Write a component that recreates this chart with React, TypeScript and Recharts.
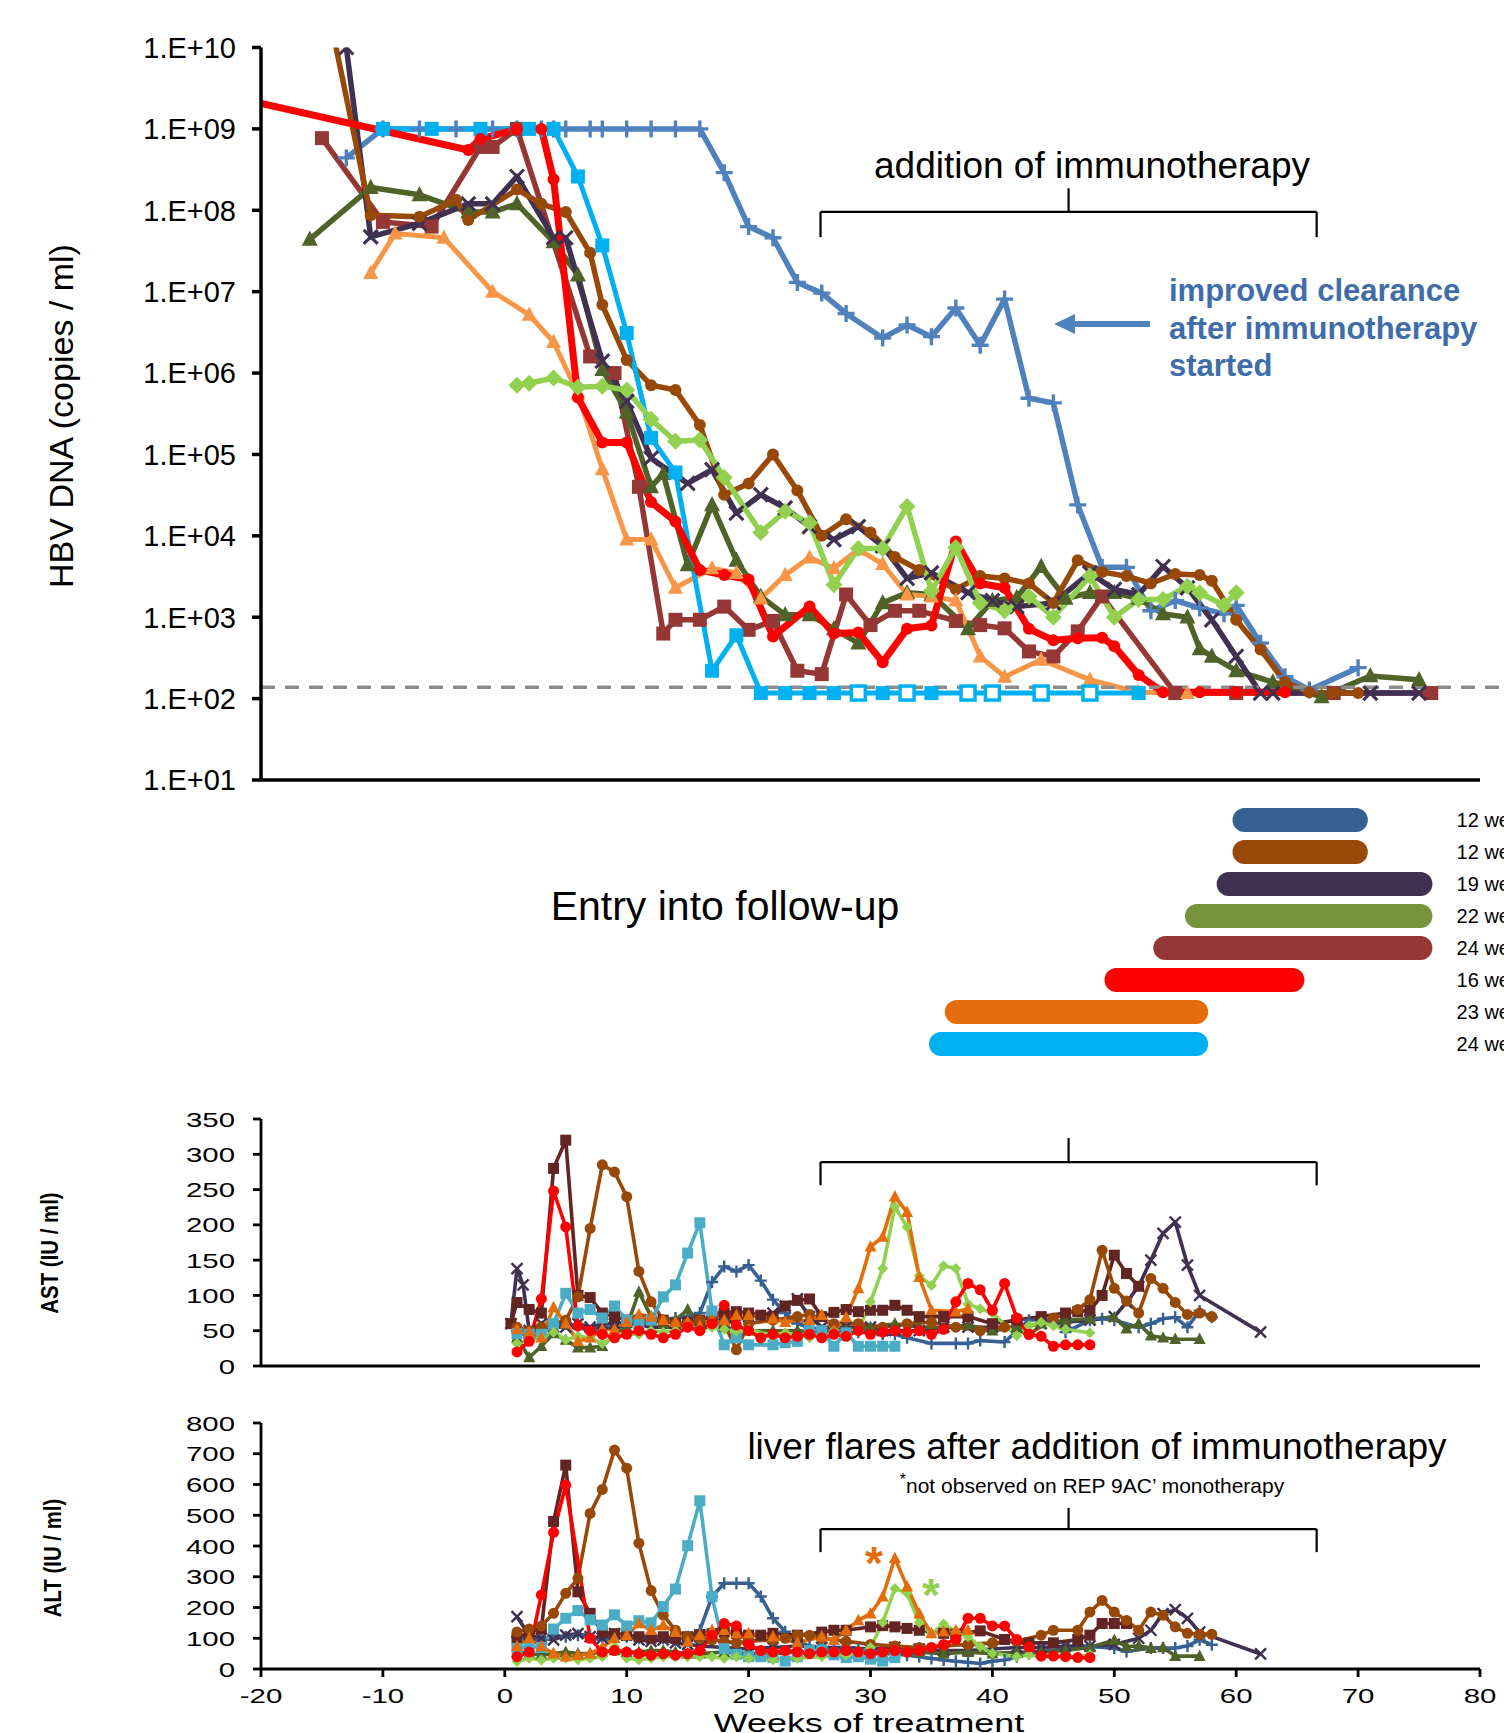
import React from 'react';
import { LineChart, Line, XAxis, YAxis, ReferenceLine, BarChart, Bar, Cell } from 'recharts';

const FONT = '"Liberation Sans", Arial, Helvetica, sans-serif';

// ---- axes ----
const weekTicks = [-20, -10, 0, 10, 20, 30, 40, 50, 60, 70, 80];
const dnaTicks = [1e1, 1e2, 1e3, 1e4, 1e5, 1e6, 1e7, 1e8, 1e9, 1e10];
const astTicks = [0, 50, 100, 150, 200, 250, 300, 350];
const altTicks = [0, 100, 200, 300, 400, 500, 600, 700, 800];
const detectionLimit = 138;

// ---- HBV DNA (copies / ml), [week, value] ----
const hbvSteelBlue = [[-13, 4.4e8], [-10, 1e9], [-7, 1e9], [-4, 1e9], [-1, 1e9], [1, 1e9], [3, 1e9], [4, 1e9], [5, 1e9], [7, 1e9], [8, 1e9], [10, 1e9], [12, 1e9], [14, 1e9], [16, 1e9], [18, 2.9e8], [20, 6.3e7], [22, 4.6e7], [24, 1.3e7], [26, 9.6e6], [28, 5.4e6], [31, 2.7e6], [33, 3.9e6], [35, 2.8e6], [37, 6.3e6], [39, 2.2e6], [41, 8.1e6], [43, 4.9e5], [45, 4.3e5], [47, 2.4e4], [49, 4.1e3], [51, 4.1e3], [53, 1.2e3], [55, 1.6e3], [57, 1.3e3], [59, 1.1e3], [60, 1.4e3], [62, 480], [64, 186], [66, 128], [70, 240]];
const hbvCyan = [[-10, 1e9], [-6, 1e9], [-2, 1e9], [2, 1e9], [4, 1e9], [6, 2.6e8], [8, 3.7e7], [10, 3.1e6], [12, 1.6e5], [14, 6e4], [17, 220], [19, 600], [21, 117], [23, 117], [25, 117], [27, 117], [29, 117], [31, 117], [33, 117], [35, 117], [38, 117], [40, 117], [44, 117], [48, 117], [52, 117]];
const cyanHollowWeeks = [29, 33, 38, 40, 44, 48];
const hbvRed = [[-23, 2.6e9], [-3, 5.5e8], [-2, 7.5e8], [1, 1e9], [3, 1e9], [4, 2.4e8], [6, 5e5], [8, 1.4e5], [10, 1.4e5], [12, 2.6e4], [14, 1.5e4], [16, 3.8e3], [18, 3.3e3], [20, 2.9e3], [22, 580], [25, 1.35e3], [27, 630], [29, 650], [31, 280], [33, 720], [35, 790], [37, 8.5e3], [39, 2.6e3], [41, 2.3e3], [43, 720], [45, 520], [47, 550], [49, 560], [50, 440], [52, 195], [54, 120], [57, 120], [60, 120], [64, 120]];
const hbvMaroon = [[-15, 7.7e8], [-10, 7.2e7], [-6, 6.3e7], [-2, 6e8], [-1, 6e8], [1, 1e9], [7, 1.6e6], [9, 1e6], [11, 4e4], [13, 630], [14, 930], [16, 930], [18, 1.35e3], [20, 700], [22, 900], [24, 220], [26, 200], [28, 1.9e3], [30, 800], [32, 1.2e3], [34, 1.2e3], [37, 900], [39, 800], [41, 730], [43, 380], [45, 330], [47, 670], [49, 1.8e3], [55, 117], [60, 117], [68, 117], [76, 117]];
const hbvBrown = [[-14, 1.3e10], [-11, 8.7e7], [-7, 8.3e7], [-4, 1.35e8], [-3, 7.6e7], [1, 1.8e8], [3, 1.2e8], [5, 9.5e7], [7, 3e7], [8, 6.9e6], [10, 1.45e6], [12, 7.1e5], [14, 6.2e5], [16, 2.3e5], [18, 3.2e4], [20, 4.4e4], [22, 1e5], [24, 3.6e4], [26, 1e4], [28, 1.6e4], [30, 1.1e4], [32, 5.5e3], [34, 3.8e3], [37, 2.2e3], [39, 3.2e3], [41, 3e3], [43, 2.6e3], [45, 1.5e3], [47, 5e3], [49, 3.6e3], [51, 3.2e3], [53, 2.6e3], [55, 3.4e3], [57, 3.3e3], [58, 2.8e3], [60, 930], [62, 400], [64, 160], [66, 120], [68, 117], [70, 117]];
const hbvPurple = [[-13, 1e10], [-11, 4.7e7], [-7, 6.9e7], [-3, 1.2e8], [-1, 1.2e8], [1, 2.6e8], [4, 4.6e7], [5, 4.6e7], [8, 1.4e6], [10, 4.5e5], [12, 9e4], [15, 4.4e4], [17, 6.5e4], [19, 1.9e4], [21, 3.2e4], [23, 2.2e4], [25, 1.3e4], [27, 9e3], [29, 1.3e4], [31, 7.5e3], [33, 3e3], [35, 3.5e3], [38, 2e3], [40, 1.6e3], [42, 1.35e3], [45, 1.5e3], [48, 3.5e3], [50, 2.2e3], [52, 1.9e3], [54, 4.2e3], [56, 2.3e3], [58, 930], [60, 330], [62, 117], [63, 117], [71, 117], [75, 117]];
const hbvDarkGreen = [[-16, 4.4e7], [-11, 1.9e8], [-7, 1.55e8], [-3, 9.5e7], [-1, 9.5e7], [1, 1.2e8], [4, 4.1e7], [6, 1.6e7], [8, 1.1e6], [10, 3.3e5], [12, 4e4], [13, 5.8e4], [15, 4.4e3], [17, 2.4e4], [19, 5e3], [21, 1.8e3], [23, 1.07e3], [25, 1.07e3], [27, 720], [29, 480], [31, 1.5e3], [33, 2e3], [35, 1.9e3], [38, 720], [40, 1.6e3], [42, 1.75e3], [44, 4.2e3], [46, 1.7e3], [48, 2e3], [50, 2e3], [52, 1.7e3], [54, 1.1e3], [56, 1e3], [57, 410], [58, 330], [60, 220], [63, 160], [67, 105], [71, 190], [75, 170]];
const hbvLightOrange = [[-11, 1.7e7], [-9, 5.2e7], [-5, 4.6e7], [-1, 1e7], [2, 5.2e6], [4, 2.4e6], [6, 5.6e5], [8, 6.6e4], [10, 9e3], [12, 9e3], [14, 2.3e3], [17, 4e3], [19, 3.5e3], [21, 1.7e3], [23, 3.3e3], [25, 5.4e3], [27, 4e3], [29, 6.8e3], [31, 4.5e3], [33, 1.9e3], [35, 1.8e3], [37, 1.6e3], [39, 330], [41, 185], [44, 300], [48, 170], [52, 120], [56, 117]];
const hbvLightGreen = [[1, 7.1e5], [2, 7.5e5], [4, 8.7e5], [6, 6.7e5], [8, 6.9e5], [10, 6.2e5], [12, 2.7e5], [14, 1.45e5], [16, 1.5e5], [18, 5.2e4], [21, 1.1e4], [23, 2e4], [25, 1.45e4], [27, 2.5e3], [29, 7e3], [31, 7e3], [33, 2.3e4], [35, 2.1e3], [37, 7.2e3], [39, 1.5e3], [41, 1.2e3], [43, 1.8e3], [45, 1e3], [48, 3.2e3], [50, 1e3], [52, 1.65e3], [54, 1.65e3], [56, 2.4e3], [57, 2e3], [59, 1.4e3], [60, 2e3]];

// ---- follow-up bars ----
const followUpLabels = ['12 weeks', '12 weeks', '19 weeks', '22 weeks', '24 weeks', '16 weeks', '23 weeks', '24 weeks'];
const followUpStart = [59.7, 59.7, 58.4, 55.8, 53.2, 49.2, 36.1, 34.8];
const followUpEnd = [70.8, 70.8, 76.1, 76.1, 76.1, 65.6, 57.7, 57.7];
const followUpColors = ['#376092', '#984807', '#403152', '#77933C', '#953735', '#FF0000', '#E46C0A', '#00B0F0'];

// ---- AST (IU / ml) ----
const astMaroon = [[0.5, 60], [1, 90], [2, 80], [3, 75], [4, 280], [5, 320], [6, 100], [7, 97], [8, 75], [9, 70], [10, 65], [11, 65], [12, 65], [13, 65], [14, 60], [15, 62], [16, 65], [17, 70], [18, 75], [19, 77], [20, 75], [21, 72], [22, 70], [23, 85], [24, 93], [25, 95], [26, 70], [27, 76], [28, 80], [29, 77], [30, 79], [31, 79], [32, 86], [33, 79], [34, 70], [36, 70], [38, 70], [40, 60], [42, 65], [44, 70], [46, 75], [47, 77], [48, 79], [49, 100], [50, 157], [51, 131], [52, 113]];
const astRed = [[1, 20], [2, 35], [3, 95], [4, 248], [5, 197], [6, 57], [7, 50], [8, 45], [9, 40], [10, 45], [11, 50], [12, 45], [13, 40], [14, 45], [15, 55], [16, 50], [17, 60], [18, 86], [19, 58], [20, 50], [21, 40], [22, 45], [23, 40], [24, 42], [25, 45], [26, 40], [27, 45], [28, 42], [29, 50], [30, 45], [31, 48], [32, 50], [33, 48], [34, 50], [35, 45], [36, 52], [37, 91], [38, 117], [39, 108], [40, 79], [41, 117], [42, 68], [43, 45], [44, 42], [45, 28], [46, 30], [47, 30], [48, 30]];
const astBrown = [[1, 55], [2, 50], [3, 55], [4, 60], [5, 65], [6, 98], [7, 195], [8, 285], [9, 275], [10, 240], [11, 134], [12, 91], [13, 65], [14, 60], [15, 60], [16, 65], [17, 70], [18, 60], [19, 23], [20, 60], [22, 65], [24, 70], [25, 73], [27, 60], [29, 60], [31, 55], [33, 60], [35, 62], [37, 55], [39, 50], [41, 55], [43, 45], [45, 68], [47, 80], [48, 94], [49, 164], [50, 110], [51, 92], [52, 75], [53, 124], [54, 110], [55, 90], [56, 73], [57, 75], [58, 70]];
const astCyan = [[1, 46], [2, 45], [3, 45], [4, 60], [5, 103], [6, 75], [7, 80], [8, 68], [9, 85], [10, 65], [11, 60], [12, 65], [13, 98], [14, 115], [15, 160], [16, 203], [17, 78], [18, 30], [19, 40], [20, 30], [22, 30], [23, 33], [24, 35], [25, 50], [26, 50], [27, 28], [28, 47], [29, 28], [30, 28], [31, 28], [32, 28]];
const astSteelBlue = [[1, 50], [2, 40], [3, 55], [4, 58], [5, 60], [6, 55], [7, 50], [8, 55], [9, 55], [10, 60], [11, 60], [12, 62], [13, 65], [14, 68], [15, 70], [16, 75], [17, 119], [18, 141], [19, 134], [20, 143], [21, 121], [22, 94], [23, 75], [24, 60], [25, 55], [26, 50], [27, 50], [28, 50], [29, 48], [30, 50], [31, 45], [32, 45], [33, 40], [35, 32], [37, 32], [38, 32], [39, 36], [41, 34], [43, 65], [44, 67], [45, 63], [46, 48], [48, 65], [49, 67], [50, 65], [52, 55], [53, 60], [54, 67], [55, 69], [56, 55], [57, 78], [58, 69]];
const astPurple = [[0.5, 60], [1, 138], [1.5, 115], [2, 50], [3, 60], [4, 55], [5, 55], [6, 60], [7, 55], [8, 60], [9, 60], [10, 62], [12, 55], [14, 55], [16, 60], [18, 60], [20, 70], [22, 75], [23, 85], [24, 95], [25, 70], [26, 55], [28, 55], [30, 55], [31, 50], [32, 50], [34, 50], [36, 55], [38, 55], [40, 55], [42, 55], [44, 60], [46, 62], [48, 65], [50, 70], [51, 90], [52, 113], [53, 150], [54, 188], [55, 204], [56, 143], [57, 100], [62, 48]];
const astDarkGreen = [[1, 40], [2, 12], [3, 28], [4, 46], [5, 37], [6, 26], [7, 26], [8, 28], [9, 45], [10, 55], [11, 105], [12, 70], [13, 60], [14, 65], [15, 80], [16, 60], [18, 55], [20, 50], [22, 50], [24, 50], [26, 48], [28, 50], [30, 55], [32, 60], [34, 55], [36, 55], [38, 58], [40, 50], [42, 55], [44, 60], [46, 65], [48, 67], [50, 69], [51, 53], [52, 60], [53, 43], [54, 40], [55, 38], [57, 38]];
const astOrange = [[1, 52], [2, 48], [3, 40], [4, 83], [5, 60], [6, 35], [7, 40], [8, 52], [9, 52], [10, 62], [11, 73], [12, 70], [13, 65], [14, 62], [15, 62], [16, 57], [17, 65], [18, 65], [19, 72], [20, 72], [22, 67], [23, 62], [25, 65], [26, 72], [27, 50], [28, 69], [29, 110], [30, 169], [31, 183], [32, 240], [33, 218], [34, 126], [35, 79], [37, 77], [38, 81]];
const astLightGreen = [[1, 32], [2, 37], [3, 40], [4, 48], [5, 37], [6, 42], [7, 40], [8, 32], [9, 40], [10, 45], [11, 45], [12, 50], [13, 48], [14, 50], [15, 55], [16, 52], [17, 55], [18, 52], [19, 50], [20, 52], [22, 43], [23, 47], [25, 40], [27, 50], [29, 50], [30, 91], [31, 138], [32, 226], [33, 197], [34, 128], [35, 114], [36, 142], [37, 138], [38, 88], [39, 81], [40, 75], [42, 43], [43, 57], [44, 62], [45, 57], [46, 52], [48, 47]];

// ---- ALT (IU / ml) ----
const altMaroon = [[1, 100], [2, 120], [3, 130], [4, 480], [5, 663], [6, 251], [7, 181], [8, 120], [9, 115], [10, 110], [11, 105], [12, 100], [13, 105], [14, 100], [15, 105], [16, 110], [17, 115], [18, 120], [19, 115], [20, 110], [21, 110], [22, 116], [24, 110], [26, 120], [27, 126], [28, 126], [30, 137], [31, 141], [32, 137], [33, 132], [34, 126], [36, 116], [37, 113], [39, 124], [41, 96], [43, 85], [45, 85], [47, 96], [48, 110], [49, 148], [50, 148], [51, 148]];
const altRed = [[1, 40], [2, 55], [3, 241], [4, 444], [5, 598], [7, 100], [8, 55], [9, 60], [10, 55], [11, 50], [12, 45], [13, 50], [14, 45], [15, 50], [16, 60], [17, 110], [18, 148], [19, 140], [20, 80], [21, 60], [22, 55], [23, 60], [24, 55], [25, 50], [26, 55], [27, 55], [28, 60], [29, 55], [30, 50], [31, 55], [32, 60], [33, 55], [34, 60], [35, 70], [36, 80], [37, 96], [38, 165], [39, 165], [40, 140], [41, 140], [42, 96], [43, 72], [44, 42], [45, 42], [46, 40], [47, 37], [48, 37]];
const altBrown = [[1, 120], [2, 130], [3, 140], [4, 181], [5, 246], [6, 295], [7, 506], [8, 584], [9, 712], [10, 653], [11, 409], [12, 255], [13, 175], [14, 126], [15, 105], [16, 100], [17, 95], [18, 90], [19, 85], [20, 90], [22, 95], [23, 100], [24, 110], [25, 110], [26, 100], [28, 90], [30, 80], [32, 75], [34, 70], [36, 75], [38, 80], [40, 85], [42, 90], [44, 110], [45, 126], [47, 126], [48, 185], [49, 223], [50, 185], [51, 158], [52, 126], [53, 185], [54, 175], [55, 137], [56, 116], [57, 113], [58, 113]];
const altCyan = [[1, 67], [2, 73], [3, 70], [4, 130], [5, 165], [6, 190], [7, 160], [8, 143], [9, 176], [10, 140], [11, 157], [12, 150], [13, 203], [14, 260], [15, 401], [16, 547], [17, 235], [18, 66], [19, 48], [20, 40], [21, 40], [22, 37], [23, 26], [24, 40], [25, 60], [26, 62], [27, 46], [28, 37], [29, 40], [30, 32], [31, 26], [32, 37]];
const altSteelBlue = [[1, 105], [2, 100], [3, 95], [4, 110], [5, 105], [6, 110], [7, 105], [8, 95], [9, 100], [10, 105], [11, 100], [12, 105], [13, 100], [14, 95], [15, 105], [16, 126], [17, 235], [18, 279], [19, 279], [20, 279], [21, 236], [22, 165], [23, 121], [24, 89], [25, 75], [26, 70], [27, 65], [28, 70], [29, 65], [30, 60], [31, 55], [32, 50], [33, 45], [34, 40], [35, 34], [36, 29], [37, 25], [38, 22], [39, 18], [40, 25], [41, 29], [42, 40], [43, 50], [44, 57], [46, 65], [48, 73], [50, 68], [51, 57], [53, 68], [54, 68], [55, 68], [56, 75], [57, 95], [58, 79]];
const altPurple = [[1, 170], [2, 110], [3, 100], [4, 95], [5, 110], [6, 115], [7, 105], [8, 100], [9, 115], [10, 110], [11, 95], [12, 90], [13, 95], [14, 85], [15, 80], [16, 75], [18, 70], [20, 65], [22, 70], [24, 75], [26, 70], [28, 70], [30, 65], [32, 70], [34, 65], [36, 60], [38, 60], [40, 65], [42, 70], [44, 70], [46, 75], [48, 75], [50, 80], [52, 100], [53, 126], [54, 180], [55, 193], [56, 165], [57, 120], [62, 49]];
const altDarkGreen = [[1, 55], [2, 50], [3, 45], [4, 50], [5, 55], [6, 50], [7, 50], [8, 55], [9, 60], [10, 55], [11, 55], [12, 60], [13, 60], [14, 55], [15, 50], [16, 50], [18, 55], [20, 50], [22, 50], [24, 55], [26, 55], [28, 50], [30, 50], [32, 50], [34, 55], [36, 50], [38, 55], [40, 50], [42, 55], [44, 55], [46, 60], [48, 70], [50, 94], [51, 73], [52, 75], [53, 68], [54, 70], [55, 42], [57, 42]];
const altOrange = [[1, 74], [2, 100], [3, 73], [4, 50], [5, 40], [6, 45], [7, 50], [8, 70], [9, 100], [10, 110], [11, 148], [12, 126], [13, 142], [14, 120], [15, 88], [16, 110], [17, 126], [18, 126], [19, 116], [20, 116], [22, 105], [24, 85], [26, 105], [27, 94], [28, 126], [29, 158], [30, 180], [31, 235], [32, 360], [33, 268], [34, 180], [35, 116], [36, 121], [37, 126], [38, 126]];
const altLightGreen = [[1, 24], [2, 35], [3, 29], [4, 35], [5, 35], [6, 30], [7, 35], [8, 40], [9, 73], [10, 35], [11, 30], [12, 35], [13, 40], [14, 40], [15, 40], [16, 40], [17, 40], [18, 35], [19, 40], [20, 35], [22, 30], [24, 35], [26, 40], [28, 45], [29, 50], [30, 70], [31, 151], [32, 262], [33, 246], [34, 151], [35, 115], [36, 146], [37, 120], [38, 105], [39, 73], [40, 51], [42, 40], [43, 46], [44, 40], [46, 40], [47, 40], [48, 46]];

// immunotherapy period (weeks) used for the braces
const immunoStart = 25.9;
const immunoEnd = 66.6;

const toRows = (pts: number[][]) => pts.map(([w, v]) => ({ w, v }));

type Shape = 'circle' | 'square' | 'triangle' | 'diamond' | 'x' | 'plus';

const makeDot = (shape: Shape, color: string, size: number, hollowWeeks: number[] = []) => (p: any) => {
  const { cx, cy, index, payload } = p;
  const key = `m-${index}`;
  if (cx == null || cy == null || !isFinite(cx) || !isFinite(cy)) return <g key={key} />;
  const h = size / 2;
  switch (shape) {
    case 'circle':
      return <circle key={key} cx={cx} cy={cy} r={h} fill={color} />;
    case 'square': {
      const hollow = hollowWeeks.includes(payload?.w);
      return (
        <rect key={key} x={cx - h} y={cy - h} width={size} height={size}
          fill={hollow ? '#fff' : color} stroke={color} strokeWidth={hollow ? 3.5 : 0} />
      );
    }
    case 'triangle':
      return <polygon key={key} points={`${cx},${cy - h * 1.1} ${cx + h},${cy + h * 0.8} ${cx - h},${cy + h * 0.8}`} fill={color} />;
    case 'diamond':
      return <polygon key={key} points={`${cx},${cy - h} ${cx + h},${cy} ${cx},${cy + h} ${cx - h},${cy}`} fill={color} />;
    case 'x':
      return <path key={key} d={`M${cx - h},${cy - h}L${cx + h},${cy + h}M${cx - h},${cy + h}L${cx + h},${cy - h}`} stroke={color} strokeWidth={Math.max(2.2, size / 4.5)} />;
    default:
      return <path key={key} d={`M${cx - h},${cy}L${cx + h},${cy}M${cx},${cy - h}L${cx},${cy + h}`} stroke={color} strokeWidth={Math.max(2.2, size / 5)} />;
  }
};

const hbvSeries = [
  { id: 'hbv-steel', pts: hbvSteelBlue, color: '#4F81BD', shape: 'plus', width: 5.5, size: 17 },
  { id: 'hbv-maroon', pts: hbvMaroon, color: '#953735', shape: 'square', width: 5.5, size: 14 },
  { id: 'hbv-dgreen', pts: hbvDarkGreen, color: '#4F6228', shape: 'triangle', width: 5.5, size: 16 },
  { id: 'hbv-purple', pts: hbvPurple, color: '#403152', shape: 'x', width: 5.5, size: 14 },
  { id: 'hbv-brown', pts: hbvBrown, color: '#984807', shape: 'circle', width: 5.5, size: 12 },
  { id: 'hbv-lorange', pts: hbvLightOrange, color: '#F79646', shape: 'triangle', width: 5, size: 15 },
  { id: 'hbv-cyan', pts: hbvCyan, color: '#00B0F0', shape: 'square', width: 5, size: 14, hollow: cyanHollowWeeks },
  { id: 'hbv-red', pts: hbvRed, color: '#FF0000', shape: 'circle', width: 7, size: 12 },
  { id: 'hbv-lgreen', pts: hbvLightGreen, color: '#92D050', shape: 'diamond', width: 5.5, size: 17 },
];

const astSeries = [
  { id: 'ast-steel', pts: astSteelBlue, color: '#376092', shape: 'plus', width: 3.6, size: 12 },
  { id: 'ast-purple', pts: astPurple, color: '#403152', shape: 'x', width: 3.6, size: 11 },
  { id: 'ast-dgreen', pts: astDarkGreen, color: '#4F6228', shape: 'triangle', width: 3.6, size: 12 },
  { id: 'ast-maroon', pts: astMaroon, color: '#632523', shape: 'square', width: 3.6, size: 11 },
  { id: 'ast-brown', pts: astBrown, color: '#984807', shape: 'circle', width: 3.6, size: 11 },
  { id: 'ast-cyan', pts: astCyan, color: '#4BACC6', shape: 'square', width: 3.6, size: 11 },
  { id: 'ast-lgreen', pts: astLightGreen, color: '#92D050', shape: 'diamond', width: 3.6, size: 11 },
  { id: 'ast-orange', pts: astOrange, color: '#E46C0A', shape: 'triangle', width: 3.6, size: 12 },
  { id: 'ast-red', pts: astRed, color: '#FF0000', shape: 'circle', width: 3.6, size: 11 },
];

const altSeries = [
  { id: 'alt-steel', pts: altSteelBlue, color: '#376092', shape: 'plus', width: 3.6, size: 12 },
  { id: 'alt-purple', pts: altPurple, color: '#403152', shape: 'x', width: 3.6, size: 11 },
  { id: 'alt-dgreen', pts: altDarkGreen, color: '#4F6228', shape: 'triangle', width: 3.6, size: 12 },
  { id: 'alt-maroon', pts: altMaroon, color: '#632523', shape: 'square', width: 3.6, size: 11 },
  { id: 'alt-brown', pts: altBrown, color: '#984807', shape: 'circle', width: 3.6, size: 11 },
  { id: 'alt-cyan', pts: altCyan, color: '#4BACC6', shape: 'square', width: 3.6, size: 11 },
  { id: 'alt-lgreen', pts: altLightGreen, color: '#92D050', shape: 'diamond', width: 3.6, size: 11 },
  { id: 'alt-orange', pts: altOrange, color: '#E46C0A', shape: 'triangle', width: 3.6, size: 12 },
  { id: 'alt-red', pts: altRed, color: '#FF0000', shape: 'circle', width: 3.6, size: 11 },
];

const renderLines = (series: any[]) =>
  series.map((s) => (
    <Line
      key={s.id}
      data={toRows(s.pts)}
      dataKey="v"
      type="linear"
      stroke={s.color}
      strokeWidth={s.width}
      strokeLinejoin="round"
      dot={makeDot(s.shape, s.color, s.size, s.hollow)}
      activeDot={false}
      isAnimationActive={false}
    />
  ));

// curly-brace style bracket drawn in data coordinates
const bracket = (id: string, yEnd: number, yBar: number, yTip: number) => {
  const xm = (immunoStart + immunoEnd) / 2;
  const segs = [
    [immunoStart, yEnd, immunoStart, yBar],
    [immunoStart, yBar, immunoEnd, yBar],
    [immunoEnd, yBar, immunoEnd, yEnd],
    [xm, yBar, xm, yTip],
  ];
  return segs.map((s, i) => (
    <ReferenceLine
      key={`${id}-${i}`}
      segment={[{ x: s[0], y: s[1] }, { x: s[2], y: s[3] }]}
      stroke="#000"
      strokeWidth={2.2}
      ifOverflow="visible"
    />
  ));
};

const fmtExp = (v: number) => {
  const e = Math.round(Math.log10(v));
  return `1.E+${String(e).padStart(2, '0')}`;
};

const YStretchTick = (p: any) => (
  <g transform={`translate(${p.x},${p.y})`}>
    <text transform="scale(1.4,1)" textAnchor="end" dy="0.36em" fontSize={21} fill="#000" fontFamily={FONT}>
      {p.payload.value}
    </text>
  </g>
);

const XStretchTick = (p: any) => (
  <g transform={`translate(${p.x},${p.y})`}>
    <text transform="scale(1.4,1)" textAnchor="middle" dy="0.75em" fontSize={21} fill="#000" fontFamily={FONT}>
      {p.payload.value}
    </text>
  </g>
);

const BarLabelTick = (p: any) => (
  <text x={p.x} y={p.y} dy="0.36em" textAnchor="start" fontSize={20} fill="#000" fontFamily={FONT}>
    {followUpLabels[p.payload.value]}
  </text>
);

const abs = (left: number, top: number, extra: any = {}) => ({
  position: 'absolute' as const,
  left,
  top,
  transform: 'translate(-50%,-50%)',
  whiteSpace: 'nowrap' as const,
  ...extra,
});

const axisStyle = { stroke: '#000', strokeWidth: 3.5 };
const lowAxisStyle = { stroke: '#000', strokeWidth: 2.8 };

export default function App() {
  const followUpRows = followUpLabels.map((label, i) => ({
    row: i,
    label,
    range: [followUpStart[i], followUpEnd[i]],
  }));

  return (
    <div style={{ position: 'absolute', left: 0, top: 0, width: 1504, height: 1733, overflow: 'hidden', background: '#fff', fontFamily: FONT, color: '#000' }}>
      {/* HBV DNA panel */}
      <div style={{ position: 'absolute', left: 0, top: 0 }}>
        <LineChart width={1504} height={800} margin={{ top: 47.5, right: 24, bottom: 0, left: 141 }}>
          <XAxis type="number" dataKey="w" domain={[-20, 80]} ticks={weekTicks} allowDataOverflow
            tick={false} tickSize={9} height={20} axisLine={axisStyle} tickLine={axisStyle} />
          <YAxis type="number" scale="log" domain={[10, 1e10]} ticks={dnaTicks} allowDataOverflow
            tickFormatter={fmtExp} width={120} tickSize={9} tickMargin={16}
            tick={{ fontSize: 29, fill: '#000', fontFamily: FONT }}
            axisLine={axisStyle} tickLine={axisStyle} />
          {renderLines(hbvSeries)}
          <ReferenceLine segment={[{ x: -20, y: detectionLimit }, { x: 82, y: detectionLimit }]}
            stroke="#8c8c8c" strokeWidth={3.5} strokeDasharray="14 10" ifOverflow="visible" />
          {bracket('b1', 10 ** 7.67, 10 ** 7.98, 10 ** 8.27)}
        </LineChart>
      </div>

      {/* Entry into follow-up bars */}
      <div style={{ position: 'absolute', left: 0, top: 804 }}>
        <BarChart width={1504} height={256} layout="vertical" data={followUpRows} margin={{ top: 0, right: 0, bottom: 0, left: 261 }}>
          <XAxis type="number" domain={[-20, 78]} hide allowDataOverflow />
          <YAxis type="category" dataKey="row" orientation="right" width={48.4} tickSize={0} tickMargin={1}
            axisLine={false} tickLine={false} tick={BarLabelTick} />
          <Bar dataKey="range" barSize={24} radius={12} isAnimationActive={false}>
            {followUpRows.map((r, i) => <Cell key={`c-${r.row}`} fill={followUpColors[i]} />)}
          </Bar>
        </BarChart>
      </div>

      {/* AST panel */}
      <div style={{ position: 'absolute', left: 0, top: 1100 }}>
        <LineChart width={1504} height={300} margin={{ top: 19, right: 24, bottom: 0, left: 141 }}>
          <XAxis type="number" dataKey="w" domain={[-20, 80]} ticks={weekTicks} allowDataOverflow
            tick={false} tickSize={8} height={34} axisLine={lowAxisStyle} tickLine={lowAxisStyle} />
          <YAxis type="number" domain={[0, 350]} ticks={astTicks} allowDataOverflow width={120}
            tickSize={8} tickMargin={18} tick={YStretchTick} axisLine={lowAxisStyle} tickLine={lowAxisStyle} />
          {renderLines(astSeries)}
          {bracket('b2', 256, 289, 323)}
        </LineChart>
      </div>

      {/* ALT panel */}
      <div style={{ position: 'absolute', left: 0, top: 1400 }}>
        <LineChart width={1504} height={333} margin={{ top: 23, right: 24, bottom: 0, left: 141 }}>
          <XAxis type="number" dataKey="w" domain={[-20, 80]} ticks={weekTicks} allowDataOverflow
            tick={XStretchTick} tickSize={8} tickMargin={10} height={64} axisLine={lowAxisStyle} tickLine={lowAxisStyle} />
          <YAxis type="number" domain={[0, 800]} ticks={altTicks} allowDataOverflow width={120}
            tickSize={8} tickMargin={18} tick={YStretchTick} axisLine={lowAxisStyle} tickLine={lowAxisStyle} />
          {renderLines(altSeries)}
          {bracket('b3', 380, 455, 524)}
        </LineChart>
      </div>

      {/* axis titles */}
      <div style={abs(61, 416, { transform: 'translate(-50%,-50%) rotate(-90deg)', fontSize: 34 })}>HBV DNA (copies / ml)</div>
      <div style={abs(50, 1253, { transform: 'translate(-50%,-50%) rotate(-90deg) scaleX(0.85)', fontSize: 24, fontWeight: 'bold' })}>AST (IU / ml)</div>
      <div style={abs(53, 1558, { transform: 'translate(-50%,-50%) rotate(-90deg) scaleX(0.85)', fontSize: 24, fontWeight: 'bold' })}>ALT (IU / ml)</div>
      <div style={{ position: 'absolute', left: 869, top: 1708, transform: 'translateX(-50%) scaleX(1.38)', fontSize: 26, whiteSpace: 'nowrap', lineHeight: '30px' }}>Weeks of treatment</div>

      {/* annotations */}
      <div style={abs(1092, 166, { fontSize: 37 })}>addition of immunotherapy</div>
      <div style={{ position: 'absolute', left: 1169, top: 272, fontSize: 31, fontWeight: 'bold', lineHeight: '37.5px', color: '#3F6DAA', whiteSpace: 'nowrap' }}>
        improved clearance<br />after immunotherapy<br />started
      </div>
      <svg width={1504} height={1733} style={{ position: 'absolute', left: 0, top: 0, pointerEvents: 'none' }}>
        <line x1={1072} y1={324} x2={1150} y2={324} stroke="#4F81BD" strokeWidth={6} />
        <polygon points="1054,324 1075,314 1075,334" fill="#4F81BD" />
      </svg>
      <div style={abs(725, 906, { fontSize: 41 })}>Entry into follow-up</div>
      <div style={abs(1097, 1447, { fontSize: 37 })}>liver flares after addition of immunotherapy</div>
      <div style={abs(1092, 1484, { fontSize: 21 })}><sup style={{ fontSize: 16 }}>*</sup>not observed on REP 9AC’ monotherapy</div>
      <div style={abs(874, 1563, { fontSize: 46, color: '#E46C0A', fontWeight: 'bold' })}>*</div>
      <div style={abs(931, 1595, { fontSize: 46, color: '#92D050', fontWeight: 'bold' })}>*</div>
    </div>
  );
}
